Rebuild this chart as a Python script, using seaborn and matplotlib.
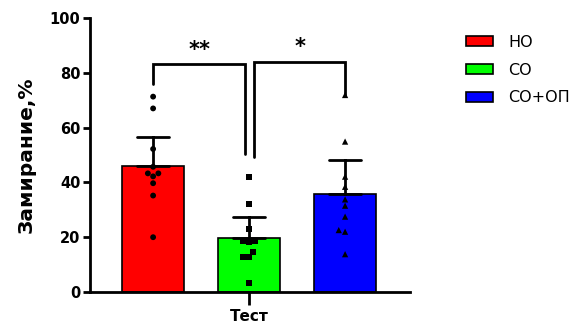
import numpy as np
import pandas as pd
import matplotlib
matplotlib.use('Agg')
import matplotlib.pyplot as plt
import seaborn as sns

# values (freezing, % per animal)
groups = ['НО', 'СО', 'СО+ОП']
colors = ['#ff0000', '#00ff00', '#0000ff']
markers = ['o', 's', '^']
test_label = 'Тест'
no_vals = [71.3, 67.0, 52.2, 45.7, 43.3, 43.3, 42.2, 39.7, 35.2, 20.0]
so_vals = [42.1, 32.0, 22.9, 18.6, 18.6, 18.1, 14.6, 12.9, 12.9, 3.3]
soop_vals = [71.9, 54.9, 42.1, 38.4, 33.8, 31.5, 27.5, 22.6, 22.0, 13.8]

# significance brackets: (left group, right group, bracket top, left leg end, right leg end, stars)
brackets = [(0, 1, 83.2, 76.0, 50.4, '**'),
            (1, 2, 84.1, 49.4, 72.0, '*')]

df = pd.DataFrame({
    'group': np.repeat(groups, 10),
    'test': test_label,
    'val': no_vals + so_vals + soop_vals,
})

def ci_upper(v):
    # upper half of 95% CI (t, df=9), as drawn above the bar
    m = np.mean(v)
    h = 2.262 * np.std(v, ddof=1) / np.sqrt(len(v))
    return (m, m + h)

sns.set_style('ticks')
plt.rcParams['font.family'] = ['DejaVu Sans']
for k in ['text.color', 'axes.labelcolor', 'xtick.color', 'ytick.color', 'axes.edgecolor']:
    plt.rcParams[k] = 'black'

fig = plt.figure(figsize=(5.81, 3.25), dpi=100)
ax = fig.add_axes([90 / 581, 1 - 292 / 325, 320 / 581, 274 / 325])

sns.barplot(data=df, x='test', y='val', hue='group', hue_order=groups,
            palette=colors, saturation=1, width=0.8, gap=0.355, errorbar=ci_upper,
            capsize=0.27, edgecolor='black', linewidth=1.2,
            err_kws={'color': 'black', 'linewidth': 2}, ax=ax)

for g, m in zip(groups, markers):
    sns.swarmplot(data=df[df['group'] == g], x='test', y='val', hue='group',
                  hue_order=groups, palette=['black'] * 3, dodge=True,
                  marker=m, size=4.2 if m != '^' else 4.5, legend=False, ax=ax)

# bar centres for the brackets
centers = sorted(p.get_x() + p.get_width() / 2 for p in ax.patches
                 if p.get_height() > 0)
for i, j, top, yl, yr, stars in brackets:
    xl, xr = centers[i], centers[j]
    if i == 1:
        xl += 0.014
    if j == 1:
        xr -= 0.011
    ax.plot([xl, xl, xr, xr], [yl, top, top, yr], color='black', lw=2,
            solid_joinstyle='miter', clip_on=False)
    ax.text((xl + xr) / 2, top + 5.3, stars, ha='center', va='center',
            fontsize=15, fontweight='bold')

ax.set_ylim(0, 100)
ax.set_xlim(-0.442, 0.447)
ax.set_yticks(range(0, 101, 20))
ax.set_xlabel('')
ax.set_ylabel('Замирание,%', fontsize=14.5, fontweight='bold', labelpad=10)
for s in ['top', 'right']:
    ax.spines[s].set_visible(False)
for s in ['left', 'bottom']:
    ax.spines[s].set_linewidth(2)
ax.tick_params(axis='y', width=2, length=5, labelsize=10.5, pad=2)
ax.tick_params(axis='x', width=2, length=9, labelsize=11, pad=3)
for lab in ax.get_xticklabels() + ax.get_yticklabels():
    lab.set_fontweight('bold')

handles, labels = ax.get_legend_handles_labels()
ax.legend(handles, labels, loc='upper left', bbox_to_anchor=(452 / 581, 1 - 20.5 / 325),
          bbox_transform=fig.transFigure, frameon=False, fontsize=11.5,
          handlelength=1.65, handleheight=0.58, handletextpad=0.95, labelspacing=0.8)

fig.savefig('out.png', dpi=100)
